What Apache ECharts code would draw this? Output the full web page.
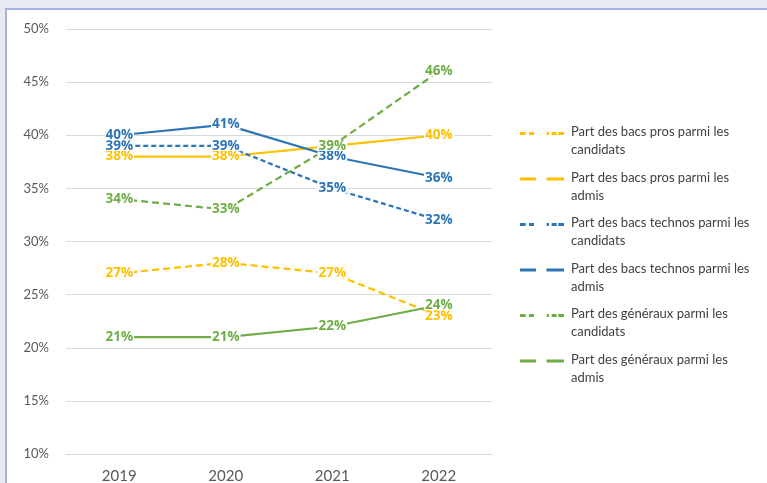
<!DOCTYPE html>
<html>
<head>
<meta charset="utf-8">
<script src="https://cdn.jsdelivr.net/npm/echarts@6/dist/echarts.min.js"></script>
<style>
  html, body { margin: 0; padding: 0; width: 767px; height: 483px; overflow: hidden; background: #e8ebf4; }
  #panel { position: absolute; left: 5px; top: 8px; right: 0; bottom: 0; background: #ffffff;
           border-left: 2px solid #a3b2de; border-top: 2px solid #a3b2de; }
  #chart { position: absolute; left: 0; top: 0; width: 767px; height: 483px; }
</style>
</head>
<body>
<div id="panel"></div>
<div id="chart"></div>
<script>
// Années du baccalauréat
const years = ['2019', '2020', '2021', '2022'];

// Parts (en %) par voie, parmi les candidats et parmi les admis
const prosCandidats = [27, 28, 27, 23];
const prosAdmis = [38, 38, 39, 40];
const technosCandidats = [39, 39, 35, 32];
const technosAdmis = [40, 41, 38, 36];
const generauxCandidats = [34, 33, 39, 46];
const generauxAdmis = [21, 21, 22, 24];

// Graduations de l'axe vertical (%)
const yMin = 10, yMax = 50, yStep = 5;

const YELLOW = '#FFC000';
const BLUE = '#2E75B6';
const GREEN = '#70AD47';

// Pictogrammes de légende : tirets interrompus (candidats) et deux traits (admis)
const TINY = 'M0,18h0.01v0.01h-0.01z';
const ICON_CAND = 'path://M0,0h5.7v3h-5.7z M9,0h5v3h-5z M26.7,0h2.3v3h-2.3z M31.7,0h5v3h-5z M38.3,0h5.7v3h-5.7z ' + TINY;
const ICON_ADMIS = 'path://M0,0h16v3h-16z M26.5,0h17.5v3h-17.5z ' + TINY;

const FONT = 'Lato, "Noto Sans", sans-serif';
const LABEL_FONT = '"Open Sans", "Noto Sans", sans-serif';

function makeSeries(name, values, color, dashed, dash) {
  return {
    name: name,
    type: 'line',
    data: values,
    symbol: 'circle',
    symbolSize: 0,
    showSymbol: true,
    color: color,
    itemStyle: { color: color },
    lineStyle: { color: color, width: 2.25, type: dashed ? dash : 'solid', cap: 'butt' },
    label: {
      show: true,
      position: 'inside',
      formatter: p => Math.round(p.value) + '%',
      color: color,
      fontFamily: LABEL_FONT,
      fontWeight: 'bold',
      fontSize: 13.5,
      lineHeight: 10,
      backgroundColor: '#ffffff',
      padding: [0, 1]
    },
    emphasis: { disabled: true }
  };
}

const series = [
  makeSeries('Part des bacs pros parmi les candidats', prosCandidats, YELLOW, true, [7, 4]),
  makeSeries('Part des bacs pros parmi les admis', prosAdmis, YELLOW, false),
  makeSeries('Part des bacs technos parmi les candidats', technosCandidats, BLUE, true, [5, 3]),
  makeSeries('Part des bacs technos parmi les admis', technosAdmis, BLUE, false),
  makeSeries('Part des généraux parmi les candidats', generauxCandidats, GREEN, true, [7, 4]),
  makeSeries('Part des généraux parmi les admis', generauxAdmis, GREEN, false)
];

const chart = echarts.init(document.getElementById('chart'), null, { renderer: 'canvas' });
chart.setOption({
  backgroundColor: 'transparent',
  animation: false,
  grid: { left: 66, right: 275, top: 29, bottom: 29, outerBoundsMode: 'none' },
  xAxis: {
    type: 'category',
    data: years,
    boundaryGap: true,
    axisLine: { show: true, lineStyle: { color: '#d9d9d9', width: 1 } },
    axisTick: { show: false },
    axisLabel: { color: '#595959', fontFamily: FONT, fontSize: 15, margin: 15 }
  },
  yAxis: {
    type: 'value',
    min: yMin,
    max: yMax,
    interval: yStep,
    axisLine: { show: false },
    axisTick: { show: false },
    axisLabel: { color: '#595959', fontFamily: FONT, fontSize: 13, margin: 17, formatter: v => v + '%' },
    splitLine: { lineStyle: { color: '#d9d9d9', width: 1 } }
  },
  legend: {
    orient: 'vertical',
    left: 515,
    top: 118,
    itemWidth: 44,
    itemHeight: 18,
    itemGap: 9.5,
    selectedMode: false,
    itemStyle: { borderWidth: 0 },
    formatter: name => name.replace(' parmi les ', ' parmi les\n'),
    textStyle: { color: '#404040', fontFamily: FONT, fontSize: 13, lineHeight: 18, padding: [0, 0, 0, 2] },
    data: series.map(s => ({ name: s.name, icon: s.lineStyle.type === 'solid' ? ICON_ADMIS : ICON_CAND }))
  },
  series: series
});
</script>
</body>
</html>
